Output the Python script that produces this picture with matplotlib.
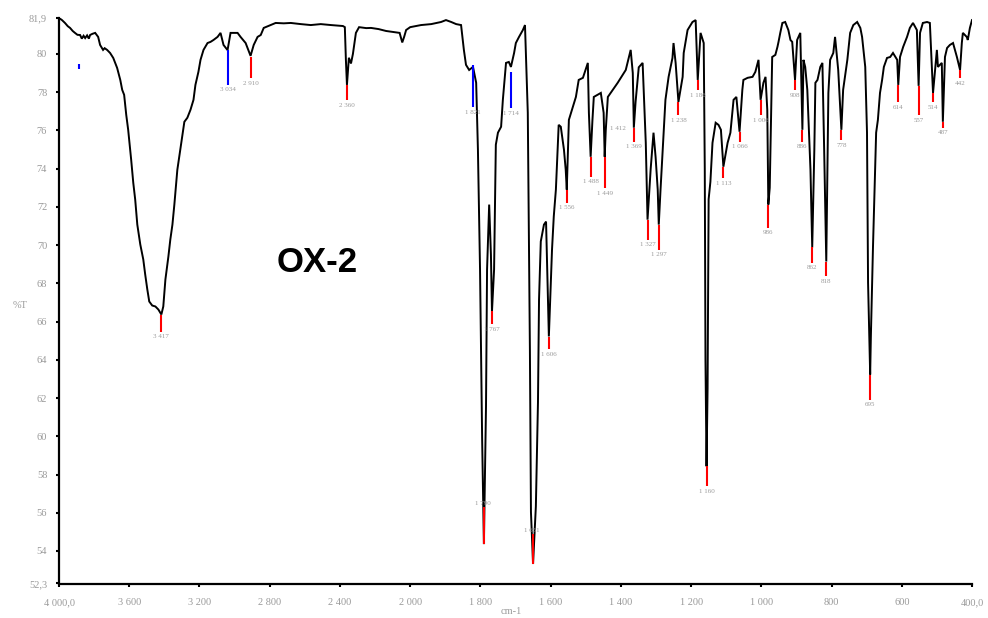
import matplotlib
matplotlib.use("Agg")
import matplotlib.pyplot as plt
import numpy as np

# IR spectrum of OX-2
wavenumber = [
    4000, 3983, 3966, 3950, 3937, 3922, 3909, 3895, 3880, 3870, 3860, 3851, 3840, 3830,
    3823, 3810, 3794, 3777, 3766, 3749, 3740, 3726, 3709, 3691, 3669, 3651, 3640, 3629,
    3617, 3606, 3589, 3577, 3566, 3554, 3537, 3520, 3509, 3497, 3486, 3469, 3451, 3434,
    3417, 3406, 3394, 3377, 3366, 3354, 3343, 3326, 3309, 3297, 3286, 3269, 3251, 3234,
    3223, 3206, 3194, 3177, 3154, 3137, 3120, 3097, 3080, 3063, 3040, 3023, 2983, 2966,
    2937, 2909, 2891, 2869, 2851, 2834, 2794, 2766, 2720, 2680, 2623, 2566, 2509, 2451,
    2383, 2372, 2366, 2360, 2349, 2337, 2326, 2309, 2291, 2250, 2223, 2180, 2137, 2100,
    2060, 2045, 2034, 2023, 2000, 1969, 1940, 1912, 1898, 1883, 1869, 1855, 1847, 1841,
    1832, 1821, 1812, 1807, 1801, 1795, 1790, 1784, 1781, 1775, 1770, 1767, 1761, 1756,
    1750, 1741, 1736, 1727, 1719, 1713, 1704, 1699, 1690, 1679, 1673, 1665, 1659, 1656,
    1650, 1642, 1636, 1633, 1628, 1619, 1613, 1605, 1596, 1591, 1585, 1577, 1571, 1562,
    1557, 1554, 1548, 1528, 1520, 1508, 1494, 1491, 1486, 1481, 1477, 1457, 1449, 1446,
    1443, 1437, 1423, 1409, 1386, 1372, 1366, 1363, 1358, 1349, 1338, 1329, 1324, 1315,
    1307, 1301, 1295, 1292, 1287, 1278, 1273, 1264, 1253, 1250, 1244, 1236, 1224, 1221,
    1210, 1196, 1187, 1181, 1173, 1164, 1161, 1159, 1156, 1153, 1150, 1145, 1139, 1130,
    1122, 1115, 1108, 1096, 1088, 1079, 1071, 1062, 1054, 1051, 1039, 1025, 1017, 1008,
    1002, 994, 988, 983, 980, 976, 972, 969, 960, 954, 951, 946, 940, 932,
    923, 917, 912, 904, 898, 889, 883, 880, 875, 869, 860, 855, 849, 846,
    840, 832, 826, 821, 815, 809, 804, 795, 790, 781, 772, 767, 755, 747,
    738, 727, 718, 713, 704, 699, 696, 690, 688, 682, 673, 668, 662, 656,
    651, 642, 633, 625, 613, 610, 605, 596, 585, 577, 568, 557, 552, 548,
    540, 528, 520, 511, 500, 497, 486, 483, 477, 471, 463, 454, 443, 434,
    429, 426, 415, 412, 406, 400,
]
transmittance = [
    81.88, 81.77, 81.62, 81.45, 81.36, 81.20, 81.10, 81.00, 80.99, 80.80, 80.95, 80.83, 80.97, 80.80,
    80.99, 81.05, 81.10, 80.89, 80.47, 80.21, 80.30, 80.21, 80.05, 79.79, 79.27, 78.64, 78.12, 77.86,
    76.81, 76.03, 74.47, 73.26, 72.38, 71.07, 70.03, 69.25, 68.46, 67.68, 67.05, 66.84, 66.79, 66.63,
    66.37, 66.79, 68.20, 69.40, 70.29, 71.07, 72.12, 73.94, 74.99, 75.77, 76.45, 76.66, 77.08, 77.60,
    78.38, 79.06, 79.69, 80.21, 80.57, 80.63, 80.73, 80.89, 81.10, 80.47, 80.20, 81.10, 81.10, 80.89,
    80.57, 79.90, 80.47, 80.89, 80.99, 81.36, 81.51, 81.62, 81.60, 81.62, 81.56, 81.51, 81.56, 81.51,
    81.46, 81.40, 79.69, 78.38, 79.80, 79.50, 80.00, 81.10, 81.40, 81.35, 81.36, 81.30, 81.20, 81.15,
    81.10, 80.60, 80.90, 81.25, 81.40, 81.51, 81.56, 81.67, 81.77, 81.67, 81.56, 81.51, 80.21, 79.43,
    79.16, 79.32, 78.49, 74.99, 68.72, 59.84, 54.36, 61.57, 68.72, 72.12, 69.51, 66.53, 68.72, 75.25,
    75.88, 76.19, 77.60, 79.53, 79.58, 79.32, 80.05, 80.57, 80.89, 81.25, 81.51, 76.92, 64.54, 56.03,
    53.32, 56.34, 61.78, 67.15, 70.19, 71.07, 71.23, 65.22, 69.77, 71.50, 72.90, 76.29, 76.19, 74.99,
    73.94, 72.90, 76.55, 77.75, 78.64, 78.75, 79.53, 76.92, 74.62, 76.50, 77.75, 77.96, 76.92, 74.62,
    76.00, 77.75, 78.12, 78.49, 79.16, 80.21, 79.00, 76.14, 77.50, 79.30, 79.53, 75.35, 71.33, 74.00,
    75.88, 74.60, 72.90, 71.07, 72.90, 75.88, 77.60, 78.80, 79.79, 80.57, 79.53, 77.49, 78.80, 80.05,
    81.25, 81.67, 81.77, 78.64, 81.10, 80.57, 74.00, 64.00, 58.43, 62.50, 72.40, 73.31, 75.35, 76.40,
    76.29, 76.03, 74.10, 75.35, 75.88, 77.60, 77.75, 75.93, 78.12, 78.64, 78.75, 78.80, 79.06, 79.69,
    77.60, 78.49, 78.80, 77.08, 72.12, 73.00, 77.00, 79.84, 79.95, 80.37, 80.63, 81.10, 81.62, 81.67,
    81.25, 80.73, 80.63, 78.64, 80.73, 81.10, 76.03, 79.69, 79.32, 78.12, 73.94, 69.88, 74.99, 78.49,
    78.64, 79.32, 79.53, 74.99, 69.14, 77.96, 79.69, 80.05, 80.89, 79.16, 76.03, 78.12, 79.69, 81.10,
    81.51, 81.67, 81.36, 80.89, 79.32, 75.88, 68.04, 63.23, 65.22, 69.88, 75.88, 76.55, 77.96, 78.64,
    79.32, 79.79, 79.84, 80.05, 79.69, 78.38, 79.84, 80.37, 80.89, 81.36, 81.62, 81.25, 78.33, 81.10,
    81.62, 81.67, 81.62, 77.96, 80.21, 79.32, 79.53, 76.45, 79.84, 80.31, 80.47, 80.57, 79.84, 79.16,
    80.57, 81.10, 80.89, 80.73, 81.36, 81.77,
]

# picked peaks: position, marker top / bottom (%T), label, colour
peak_wn = [3885, 3417, 3040, 2909, 2360, 1821, 1790, 1767, 1713, 1650, 1605, 1554, 1486,
           1446, 1363, 1324, 1292, 1236, 1181, 1156, 1108, 1062, 1002, 980, 904, 883,
           855, 815, 772, 690, 610, 552, 511, 483, 434]
peak_top = [79.45, 66.37, 80.20, 79.84, 78.38, 79.43, 56.29, 66.53, 79.06, 54.88, 65.17,
            72.90, 74.62, 74.62, 76.14, 71.33, 71.07, 77.49, 78.64, 58.43, 74.10, 75.93,
            77.60, 72.12, 78.64, 76.03, 69.88, 69.14, 76.03, 63.23, 78.38, 78.33, 77.96,
            76.45, 79.16]
peak_bottom = [79.20, 65.48, 78.40, 78.75, 77.60, 77.23, 54.36, 65.85, 77.18, 53.32, 64.54,
               72.22, 73.58, 73.00, 75.41, 70.29, 69.77, 76.81, 78.12, 57.39, 73.52, 75.41,
               76.81, 70.92, 78.12, 75.41, 69.09, 68.36, 75.51, 61.92, 77.49, 76.81, 77.49,
               76.14, 78.75]
peak_labels = ["", "3 417", "3 034", "2 910", "2 360", "1 821", "1 790", "1 767", "1 714",
               "1 651", "1 606", "1 556", "1 488", "1 449", "1 369", "1 327", "1 297",
               "1 238", "1 186", "1 160", "1 113", "1 066", "1 006", "986", "908", "886",
               "862", "818", "778", "695", "614", "557", "514", "487", "442"]
peak_colors = ["blue", "red", "blue", "red", "red", "blue", "red", "red", "blue", "red",
               "red", "red", "red", "red", "red", "red", "red", "red", "red", "red", "red",
               "red", "red", "red", "red", "red", "red", "red", "red", "red", "red", "red",
               "red", "red", "red"]
labels_above = {"1 790", "1 651"}

extra_label = "1 412"
extra_label_wn = 1409
extra_label_t = 76.1

x_ticks = [4000, 3600, 3200, 2800, 2400, 2000, 1800, 1600, 1400, 1200, 1000, 800, 600, 400]
x_ticklabels = ["4 000,0", "3 600", "3 200", "2 800", "2 400", "2 000", "1 800", "1 600",
                "1 400", "1 200", "1 000", "800", "600", "400,0"]
y_ticks = [52.3, 54, 56, 58, 60, 62, 64, 66, 68, 70, 72, 74, 76, 78, 80, 81.9]
y_ticklabels = ["52,3", "54", "56", "58", "60", "62", "64", "66", "68", "70", "72", "74",
                "76", "78", "80", "81,9"]


# wavenumber axis is compressed by half above 2000 cm-1
def fwd(w):
    w = np.asarray(w, dtype=float)
    return np.where(w > 2000, 2000 + (w - 2000) / 2.0, w)


def inv(u):
    u = np.asarray(u, dtype=float)
    return np.where(u > 2000, 2000 + (u - 2000) * 2.0, u)


serif = ["Liberation Serif", "DejaVu Serif"]
grey = "#9a9a9a"

fig = plt.figure(figsize=(9.88, 6.18), dpi=100)
ax = fig.add_axes([59 / 988, 1 - 583.5 / 618, 913 / 988, (583.5 - 17.6) / 618])

ax.set_xscale("function", functions=(fwd, inv))
ax.set_xlim(4000, 400)
ax.set_ylim(52.3, 81.9)

ax.plot(wavenumber, transmittance, color="black", lw=1.4, solid_joinstyle="miter", zorder=2)

for wn, top, bot, lab, col in zip(peak_wn, peak_top, peak_bottom, peak_labels, peak_colors):
    ax.plot([wn, wn], [top, bot], color=col, lw=1.5, solid_capstyle="butt", zorder=3)
    if not lab:
        continue
    if lab in labels_above:
        ax.annotate(lab, (wn, top), xytext=(-1, 1), textcoords="offset points",
                    ha="center", va="bottom", fontsize=5, color=grey, family=serif)
    else:
        ax.annotate(lab, (wn, bot), xytext=(0, -2), textcoords="offset points",
                    ha="center", va="top", fontsize=5, color=grey, family=serif)

ax.text(extra_label_wn, extra_label_t, extra_label, ha="center", va="center",
        fontsize=5, color=grey, family=serif)

ax.set_xticks(x_ticks)
ax.set_xticklabels(x_ticklabels)
ax.set_yticks(y_ticks)
ax.set_yticklabels(y_ticklabels)
ax.minorticks_off()

for side in ["top", "right"]:
    ax.spines[side].set_visible(False)
for side in ["left", "bottom"]:
    ax.spines[side].set_linewidth(1.6)

ax.tick_params(axis="both", direction="out", length=2.5, width=1.5, color="black",
               labelcolor=grey, labelsize=7.5)
ax.tick_params(axis="x", pad=8)
ax.tick_params(axis="y", pad=6)
for t in ax.get_xticklabels() + ax.get_yticklabels():
    t.set_family(serif)

fig.text(20 / 988, 1 - 305 / 618, "%T", ha="center", va="center", fontsize=7.5,
         color=grey, family=serif)
fig.text(511 / 988, 1 - 611 / 618, "cm-1", ha="center", va="center", fontsize=7.5,
         color=grey, family=serif)

fig.text(317 / 988, 1 - 263 / 618, "OX-2", ha="center", va="center", fontsize=25,
         fontweight="bold", family=["Liberation Sans", "DejaVu Sans"])

fig.savefig("out.png", dpi=100)
